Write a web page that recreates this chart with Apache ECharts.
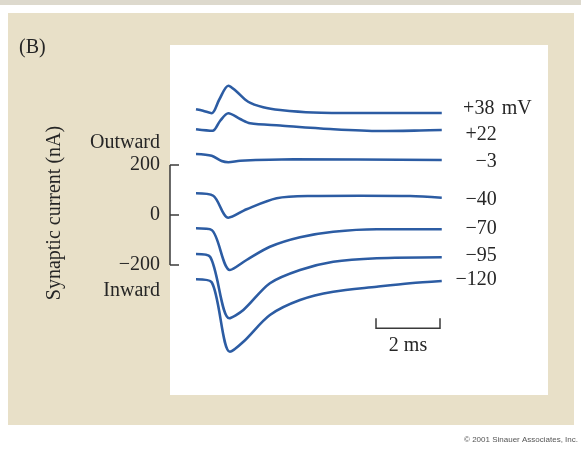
<!DOCTYPE html>
<html>
<head>
<meta charset="utf-8">
<script src="https://cdn.jsdelivr.net/npm/echarts@6/dist/echarts.min.js"></script>
<style>
  html, body { margin: 0; padding: 0; background: #fff; }
  #chart { width: 581px; height: 449px; }
</style>
</head>
<body>
<div id="chart"></div>
<script>
// Synaptic currents recorded at different holding potentials.
// Time in ms (0 = start of trace), current in nA on a shared display scale
// where each trace sits on its own baseline.
const holdingLabels = ['+38', '+22', '−3', '−40', '−70', '−95', '−120'];

const tracePlus38 = [[0, 423], [0.22, 417], [0.49, 407], [0.72, 460], [1.01, 517], [1.25, 496], [1.63, 453], [2.10, 431], [2.63, 420], [3.66, 410], [5.13, 408], [7.68, 408]];
const tracePlus22 = [[0, 343], [0.52, 337], [0.75, 376], [1.01, 407], [1.38, 384], [1.69, 367], [2.63, 358], [4.19, 344], [5.75, 336], [7.0, 338], [7.68, 340]];
const traceMinus3 = [[0, 244], [0.49, 237], [0.80, 216], [1.01, 211], [1.38, 217], [3.04, 223], [7.68, 220]];
const traceMinus40 = [[0, 87], [0.54, 77], [1.01, -11], [1.58, 23], [2.52, 67], [3.56, 76], [5.13, 77], [6.69, 76], [7.68, 69]];
const traceMinus70 = [[0, -53], [0.49, -60], [1.06, -220], [1.58, -180], [2.31, -127], [3.25, -89], [4.29, -67], [5.65, -57], [7.68, -57]];
const traceMinus95 = [[0, -156], [0.44, -167], [1.04, -413], [1.48, -380], [2.31, -273], [3.25, -220], [4.29, -187], [5.65, -173], [7.68, -169]];
const traceMinus120 = [[0, -257], [0.49, -269], [1.06, -547], [1.48, -507], [2.31, -400], [3.25, -340], [4.29, -307], [5.65, -287], [6.69, -273], [7.68, -264]];

const traces = [tracePlus38, tracePlus22, traceMinus3, traceMinus40, traceMinus70, traceMinus95, traceMinus120];

// Current calibration bracket (nA) and time calibration bar (ms)
const currentTicks = [-200, 0, 200];
const currentTickLabels = ['−200', '0', '200'];
const timeBarStart = 5.625;
const timeBarLength = 2;
const timeBarLevel = -453;
const timeBarLabel = '2 ms';

// Axis extents of the plotting panel
const timeMin = -0.8125, timeMax = 11;
const currentMin = -720, currentMax = 680;

const SERIF = '"Liberation Serif", "DejaVu Serif", serif';
const INK = '#262626';
const TRACE = '#2c5ca3';
const labelNudge = [-4, 5, 2, 2, -1, -2, -1];

const chart = echarts.init(document.getElementById('chart'), null, { renderer: 'canvas' });

const traceSeries = traces.map((data, i) => ({
  type: 'line',
  name: holdingLabels[i],
  data: data,
  showSymbol: false,
  smooth: 0.3,
  lineStyle: { color: TRACE, width: 2.6 },
  z: 5,
  endLabel: {
    show: true,
    distance: 0,
    offset: [19, labelNudge[i]],
    align: 'left',
    verticalAlign: 'middle',
    formatter: i === 0 ? '{n|' + holdingLabels[i] + '}{u| mV}' : '{n|' + holdingLabels[i] + '}',
    rich: {
      n: { width: 36, align: 'right', fontFamily: SERIF, fontSize: 20, color: INK },
      u: { fontFamily: SERIF, fontSize: 20, color: INK }
    }
  }
}));

const bracketSeries = {
  type: 'custom',
  clip: false,
  silent: true,
  z: 6,
  data: currentTicks.map((v, i) => [timeMin, v, i]),
  renderItem(params, api) {
    const p = api.coord([api.value(0), api.value(1)]);
    const children = [
      { type: 'line', shape: { x1: p[0], y1: p[1], x2: p[0] + 9, y2: p[1] },
        style: { stroke: '#3a3a3a', lineWidth: 1.5 } },
      { type: 'text', style: { text: currentTickLabels[api.value(2)], x: p[0] - 10, y: p[1],
        align: 'right', verticalAlign: 'middle', fontFamily: SERIF, fontSize: 20, fill: INK } }
    ];
    if (params.dataIndex === 0) {
      const lo = api.coord([timeMin, currentTicks[0]]);
      const hi = api.coord([timeMin, currentTicks[currentTicks.length - 1]]);
      children.push({ type: 'line', shape: { x1: lo[0], y1: lo[1], x2: hi[0], y2: hi[1] },
        style: { stroke: '#3a3a3a', lineWidth: 1.5 } });
      children.push({ type: 'text', style: { text: 'Inward', x: lo[0] - 10, y: lo[1] + 26,
        align: 'right', verticalAlign: 'middle', fontFamily: SERIF, fontSize: 20, fill: INK } });
      children.push({ type: 'text', style: { text: 'Outward', x: hi[0] - 10, y: hi[1] - 22,
        align: 'right', verticalAlign: 'middle', fontFamily: SERIF, fontSize: 20, fill: INK } });
    }
    return { type: 'group', children };
  }
};

const timeBarSeries = {
  type: 'custom',
  clip: false,
  silent: true,
  z: 6,
  data: [[timeBarStart, timeBarLevel, timeBarStart + timeBarLength]],
  renderItem(params, api) {
    const a = api.coord([api.value(0), api.value(1)]);
    const b = api.coord([api.value(2), api.value(1)]);
    return {
      type: 'group',
      children: [
        { type: 'polyline', shape: { points: [[a[0], a[1] - 10], a, b, [b[0], b[1] - 10]] },
          style: { stroke: '#3a3a3a', lineWidth: 1.5, fill: null } },
        { type: 'text', style: { text: timeBarLabel, x: (a[0] + b[0]) / 2, y: a[1] + 17,
          align: 'center', verticalAlign: 'middle', fontFamily: SERIF, fontSize: 20, fill: INK } }
      ]
    };
  }
};

chart.setOption({
  backgroundColor: '#ffffff',
  animation: false,
  grid: { left: 170, top: 45, right: 33, bottom: 54 },
  xAxis: { type: 'value', min: timeMin, max: timeMax, show: false },
  yAxis: { type: 'value', min: currentMin, max: currentMax, show: false },
  graphic: [
    { type: 'rect', z: -20, shape: { x: 0, y: 0, width: 581, height: 5 }, style: { fill: '#ddd9cd' } },
    { type: 'rect', z: -20, shape: { x: 8, y: 13, width: 566, height: 412 }, style: { fill: '#e8e0c8' } },
    { type: 'rect', z: -19, shape: { x: 170, y: 45, width: 378, height: 350 }, style: { fill: '#ffffff' } },
    { type: 'text', z: 10, style: { text: '(B)', x: 19, y: 48, verticalAlign: 'middle',
      fontFamily: SERIF, fontSize: 20, fill: INK } },
    { type: 'text', z: 10, rotation: Math.PI / 2, x: 55, y: 213,
      style: { text: 'Synaptic current (nA)', align: 'center', verticalAlign: 'middle',
        fontFamily: SERIF, fontSize: 20, fill: INK } },
    { type: 'text', z: 10, style: { text: '© 2001 Sinauer Associates, Inc.', x: 578, y: 440,
      align: 'right', verticalAlign: 'middle', fontFamily: '"Liberation Sans", Arial, sans-serif',
      fontSize: 8, fill: '#555' } }
  ],
  series: [...traceSeries, bracketSeries, timeBarSeries]
});
</script>
</body>
</html>
